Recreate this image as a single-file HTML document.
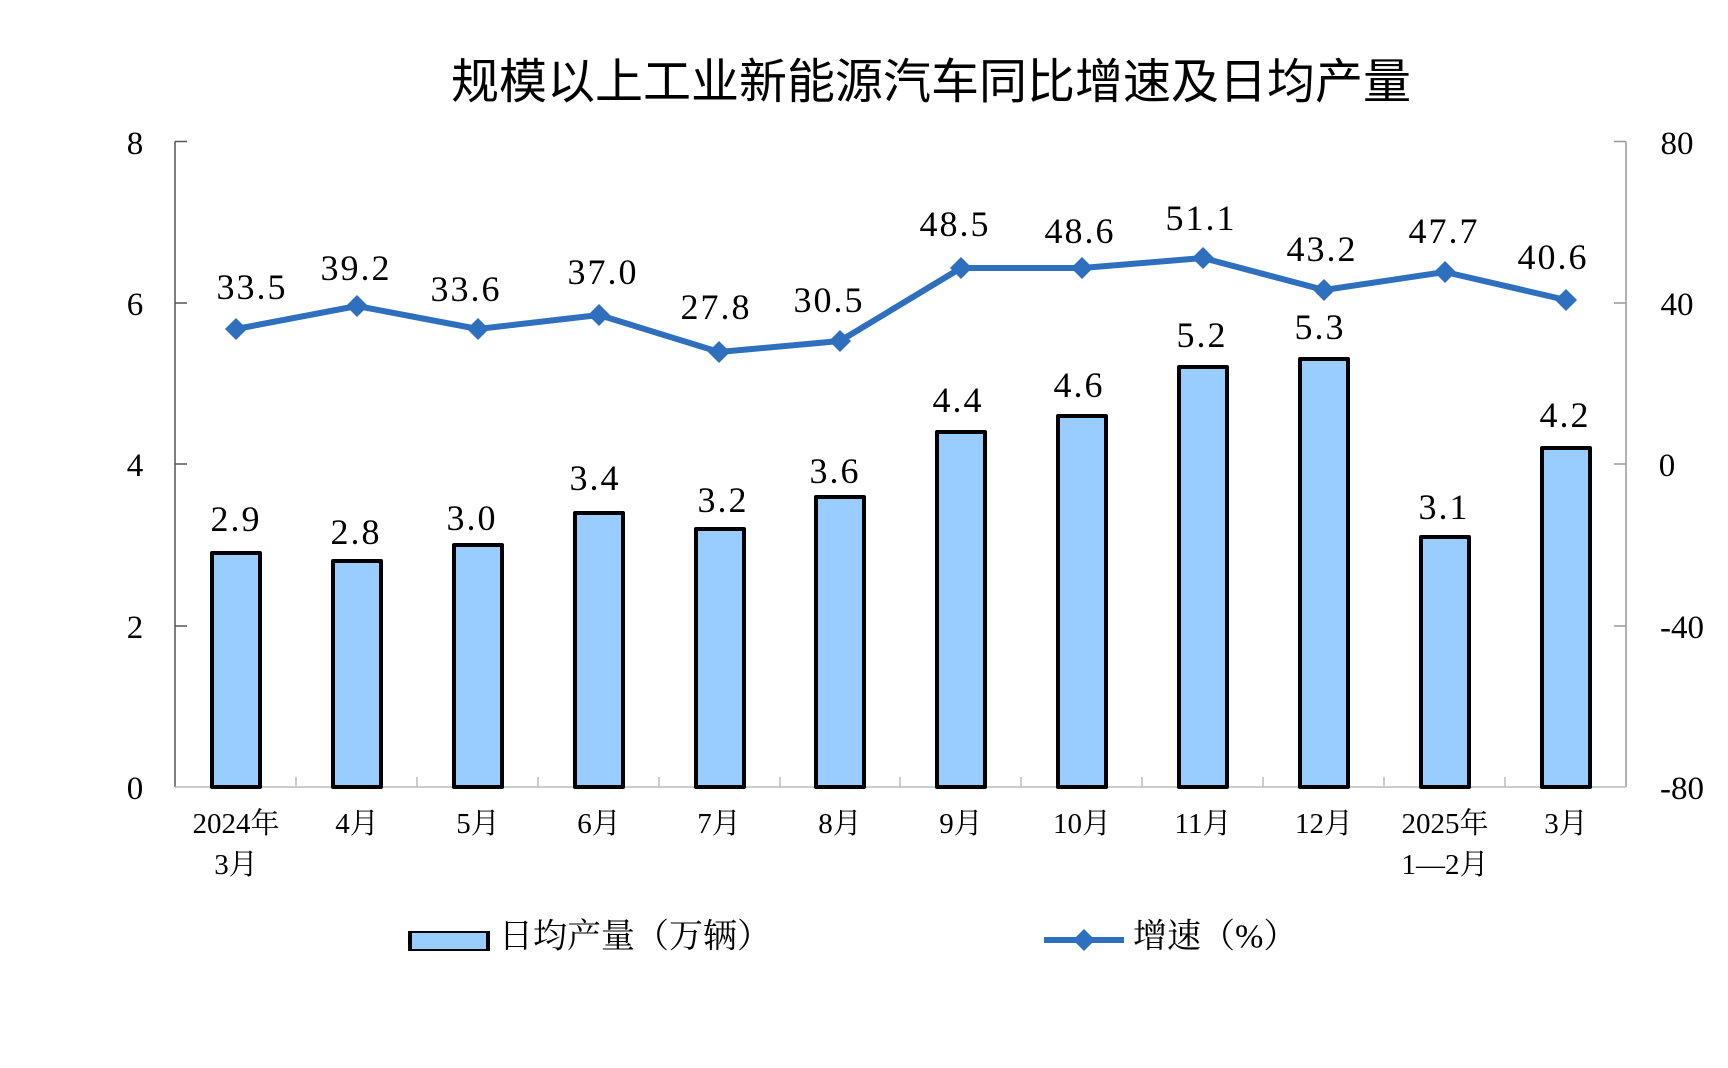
<!DOCTYPE html>
<html><head><meta charset="utf-8"><style>
html,body{margin:0;padding:0;background:#fff;}
svg{display:block;}
.t{font-family:"Liberation Serif","Noto Serif CJK SC",serif;fill:#000;}
</style></head><body>
<svg width="1728" height="1068" viewBox="0 0 1728 1068" xmlns="http://www.w3.org/2000/svg">
<rect width="1728" height="1068" fill="#fff"/>
<text x="931" y="77" text-anchor="middle" dominant-baseline="central" font-family="'Noto Sans CJK SC',sans-serif" font-size="48" font-weight="400" fill="#000">规模以上工业新能源汽车同比增速及日均产量</text>
<g stroke="#555" stroke-width="1.5" fill="none">
<line x1="175" y1="141.5" x2="175" y2="787"/>
<line x1="175" y1="141.5" x2="187" y2="141.5"/>
<line x1="175" y1="303" x2="187" y2="303"/>
<line x1="175" y1="464" x2="187" y2="464"/>
<line x1="175" y1="626" x2="187" y2="626"/>
</g>
<g stroke="#999" stroke-width="1.5" fill="none">
<line x1="1626" y1="141.5" x2="1626" y2="787"/>
<line x1="1614" y1="141.5" x2="1626" y2="141.5"/>
<line x1="1614" y1="303" x2="1626" y2="303"/>
<line x1="1614" y1="464" x2="1626" y2="464"/>
<line x1="1614" y1="626" x2="1626" y2="626"/>
<line x1="175" y1="787" x2="1626" y2="787" stroke="#bbb"/>
<line x1="296" y1="777" x2="296" y2="787" stroke="#bbb"/>
<line x1="417" y1="777" x2="417" y2="787" stroke="#bbb"/>
<line x1="538" y1="777" x2="538" y2="787" stroke="#bbb"/>
<line x1="659" y1="777" x2="659" y2="787" stroke="#bbb"/>
<line x1="780" y1="777" x2="780" y2="787" stroke="#bbb"/>
<line x1="900" y1="777" x2="900" y2="787" stroke="#bbb"/>
<line x1="1021" y1="777" x2="1021" y2="787" stroke="#bbb"/>
<line x1="1142" y1="777" x2="1142" y2="787" stroke="#bbb"/>
<line x1="1263" y1="777" x2="1263" y2="787" stroke="#bbb"/>
<line x1="1384" y1="777" x2="1384" y2="787" stroke="#bbb"/>
<line x1="1505" y1="777" x2="1505" y2="787" stroke="#bbb"/>
</g>
<g class="t" font-size="33" text-anchor="middle" dominant-baseline="central">
<text x="135" y="144">8</text><text x="135" y="305">6</text><text x="135" y="466">4</text><text x="135" y="628">2</text><text x="135" y="789">0</text>
<text x="1677" y="144">80</text><text x="1677" y="305">40</text><text x="1667" y="466">0</text><text x="1682" y="628">-40</text><text x="1682" y="789">-80</text>
</g>
<g fill="#99ccff" stroke="#000" stroke-width="4" stroke-linejoin="round">
<rect x="212" y="553" width="48" height="234"/>
<rect x="333" y="561" width="48" height="226"/>
<rect x="454" y="545" width="48" height="242"/>
<rect x="575" y="513" width="48" height="274"/>
<rect x="696" y="529" width="48" height="258"/>
<rect x="816" y="497" width="48" height="290"/>
<rect x="937" y="432" width="48" height="355"/>
<rect x="1058" y="416" width="48" height="371"/>
<rect x="1179" y="367" width="48" height="420"/>
<rect x="1300" y="359" width="48" height="428"/>
<rect x="1421" y="537" width="48" height="250"/>
<rect x="1542" y="448" width="48" height="339"/>
</g>
<polyline fill="none" stroke="#2e6fbe" stroke-width="6" stroke-linejoin="round" points="236,329 357,306 478,329 599,315 719,352 840,341 961,268 1082,268 1203,258 1324,290 1445,272 1566,300"/>
<g fill="#2e6fbe">
<polygon points="236,318 247,329 236,340 225,329"/>
<polygon points="357,295 368,306 357,317 346,306"/>
<polygon points="478,318 489,329 478,340 467,329"/>
<polygon points="599,304 610,315 599,326 588,315"/>
<polygon points="719,341 730,352 719,363 708,352"/>
<polygon points="840,330 851,341 840,352 829,341"/>
<polygon points="961,257 972,268 961,279 950,268"/>
<polygon points="1082,257 1093,268 1082,279 1071,268"/>
<polygon points="1203,247 1214,258 1203,269 1192,258"/>
<polygon points="1324,279 1335,290 1324,301 1313,290"/>
<polygon points="1445,261 1456,272 1445,283 1434,272"/>
<polygon points="1566,289 1577,300 1566,311 1555,300"/>
</g>
<g class="t" font-size="36" letter-spacing="2" text-anchor="middle" dominant-baseline="central">
<text x="252" y="287">33.5</text><text x="356" y="268">39.2</text><text x="466" y="289">33.6</text><text x="603" y="272">37.0</text><text x="716" y="307">27.8</text><text x="829" y="300">30.5</text><text x="955" y="224">48.5</text><text x="1080" y="231">48.6</text><text x="1201" y="218">51.1</text><text x="1322" y="249">43.2</text><text x="1444" y="231">47.7</text><text x="1553" y="257">40.6</text>
<text x="236" y="519">2.9</text><text x="356" y="532">2.8</text><text x="472" y="518">3.0</text><text x="595" y="478">3.4</text><text x="723" y="500">3.2</text><text x="835" y="471">3.6</text><text x="958" y="400">4.4</text><text x="1079" y="385">4.6</text><text x="1202" y="335">5.2</text><text x="1320" y="327">5.3</text><text x="1444" y="507">3.1</text><text x="1565" y="415">4.2</text>
</g>
<g class="t" font-size="29" text-anchor="middle" dominant-baseline="central">
<text x="236" y="824">2024年</text><text x="236" y="865">3月</text>
<text x="357" y="824">4月</text><text x="478" y="824">5月</text><text x="599" y="824">6月</text><text x="719" y="824">7月</text><text x="840" y="824">8月</text><text x="961" y="824">9月</text><text x="1082" y="824">10月</text><text x="1203" y="824">11月</text><text x="1324" y="824">12月</text>
<text x="1445" y="824">2025年</text><text x="1445" y="865">1—2月</text>
<text x="1566" y="824">3月</text>
</g>
<rect x="410" y="932" width="78" height="18" fill="#99ccff" stroke="#000" stroke-width="2"/>
<line x1="410" y1="931" x2="410" y2="951" stroke="#000" stroke-width="4"/>
<line x1="488" y1="931" x2="488" y2="951" stroke="#000" stroke-width="4"/>
<text class="t" x="499" y="937" font-size="34" dominant-baseline="central">日均产量（万辆）</text>
<line x1="1044" y1="940" x2="1124" y2="940" stroke="#2e6fbe" stroke-width="6"/>
<polygon points="1084,929 1095,940 1084,951 1073,940" fill="#2e6fbe"/>
<text class="t" x="1133" y="937" font-size="34" dominant-baseline="central">增速（%）</text>
</svg>
</body></html>
